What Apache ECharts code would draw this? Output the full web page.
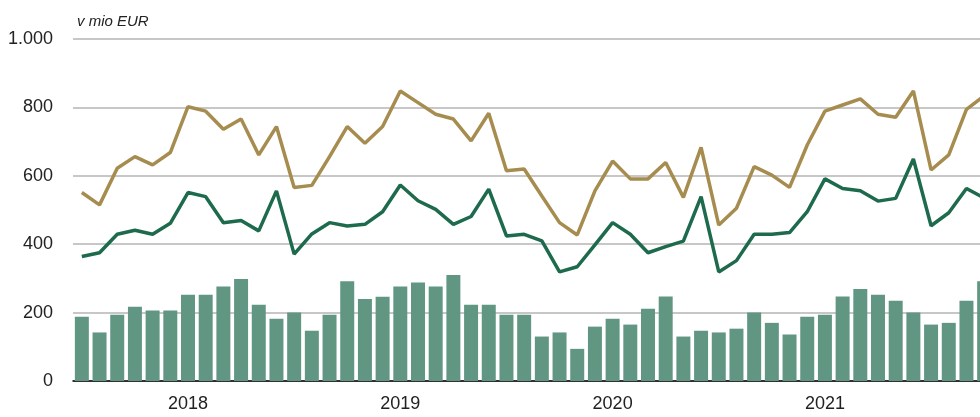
<!DOCTYPE html>
<html>
<head>
<meta charset="utf-8">
<script src="https://cdn.jsdelivr.net/npm/echarts@6/dist/echarts.min.js"></script>
<style>
  html, body { margin: 0; padding: 0; overflow: hidden; background: #fff; }
  #chart { width: 1000px; height: 417px; }
</style>
</head>
<body>
<div id="chart"></div>
<script>
  // mesecni podatki, jan 2018 - apr 2022
  var years = ['2018', '2019', '2020', '2021', '2022']
  var months = []
  years.forEach(function (y) {
    for (var m = 1; m <= 12; m++) {
      months.push(y + '-' + (m < 10 ? '0' + m : m))
    }
  })
  months = months.slice(0, 52)

  var saldo = [188, 142, 194, 217, 206, 206, 252, 252, 276, 298, 223, 182,
    200, 147, 194, 292, 240, 246, 276, 288, 276, 310, 223, 223,
    194, 194, 130, 142, 94, 159, 182, 165, 211, 247, 130, 147,
    142, 153, 200, 170, 136, 188, 194, 247, 269, 252, 235, 200,
    165, 170, 235, 292]

  var prilivi = [551, 515, 622, 656, 632, 668, 802, 789, 736, 766, 661, 744,
    566, 572, 656, 744, 695, 744, 848, 814, 780, 766, 702, 783,
    615, 620, 541, 463, 427, 556, 643, 591, 591, 639, 537, 683,
    456, 505, 627, 602, 566, 690, 789, 807, 825, 780, 771, 848,
    617, 661, 794, 834]

  var odlivi = [364, 375, 429, 441, 429, 461, 551, 539, 463, 469, 439, 556,
    371, 430, 463, 453, 458, 495, 573, 527, 502, 458, 481, 561,
    424, 429, 410, 319, 334, 398, 463, 429, 375, 393, 409, 539,
    319, 352, 429, 429, 434, 495, 591, 563, 556, 526, 534, 649,
    454, 492, 563, 535]

  var chart = echarts.init(document.getElementById('chart'))
  chart.setOption({
    animation: false,
    title: {
      text: 'v mio EUR',
      left: 72,
      top: 9,
      textStyle: {
        fontFamily: 'Liberation Sans',
        fontStyle: 'italic',
        fontWeight: 'normal',
        fontSize: 15,
        color: '#222'
      }
    },
    grid: {
      left: 73,
      right: 7,
      top: 39,
      bottom: 36,
      outerBoundsMode: 'none'
    },
    xAxis: {
      type: 'category',
      data: months,
      boundaryGap: true,
      axisLine: {
        lineStyle: { color: '#000', width: 1.5 }
      },
      axisTick: {
        length: 6,
        interval: function (index) { return index % 12 === 0 },
        lineStyle: { color: '#000', width: 1.5 }
      },
      axisLabel: {
        interval: function (index) { return index % 12 === 6 },
        formatter: function (v) { return v.slice(0, 4) },
        margin: 14,
        fontFamily: 'Liberation Sans',
        fontSize: 18,
        color: '#222'
      },
      splitLine: { show: false }
    },
    yAxis: {
      type: 'value',
      min: 0,
      max: 1000,
      interval: 200,
      axisLine: { show: false },
      axisTick: { show: false },
      axisLabel: {
        margin: 20,
        fontFamily: 'Liberation Sans',
        fontSize: 18,
        color: '#222',
        formatter: function (v) {
          return v >= 1000 ? (v / 1000) + '.' + String(v % 1000).padStart(3, '0') : String(v)
        }
      },
      splitLine: {
        lineStyle: { color: '#b4b4b4', width: 1.5 }
      }
    },
    series: [{
      name: 'saldo',
      type: 'bar',
      data: saldo,
      barCategoryGap: '21%',
      itemStyle: { color: '#619683' }
    }, {
      name: 'prilivi',
      type: 'line',
      data: prilivi,
      symbol: 'none',
      lineStyle: { color: '#a68d4f', width: 3.5 }
    }, {
      name: 'odlivi',
      type: 'line',
      data: odlivi,
      symbol: 'none',
      lineStyle: { color: '#1d6a4c', width: 3.5 }
    }]
  })
</script>
</body>
</html>
